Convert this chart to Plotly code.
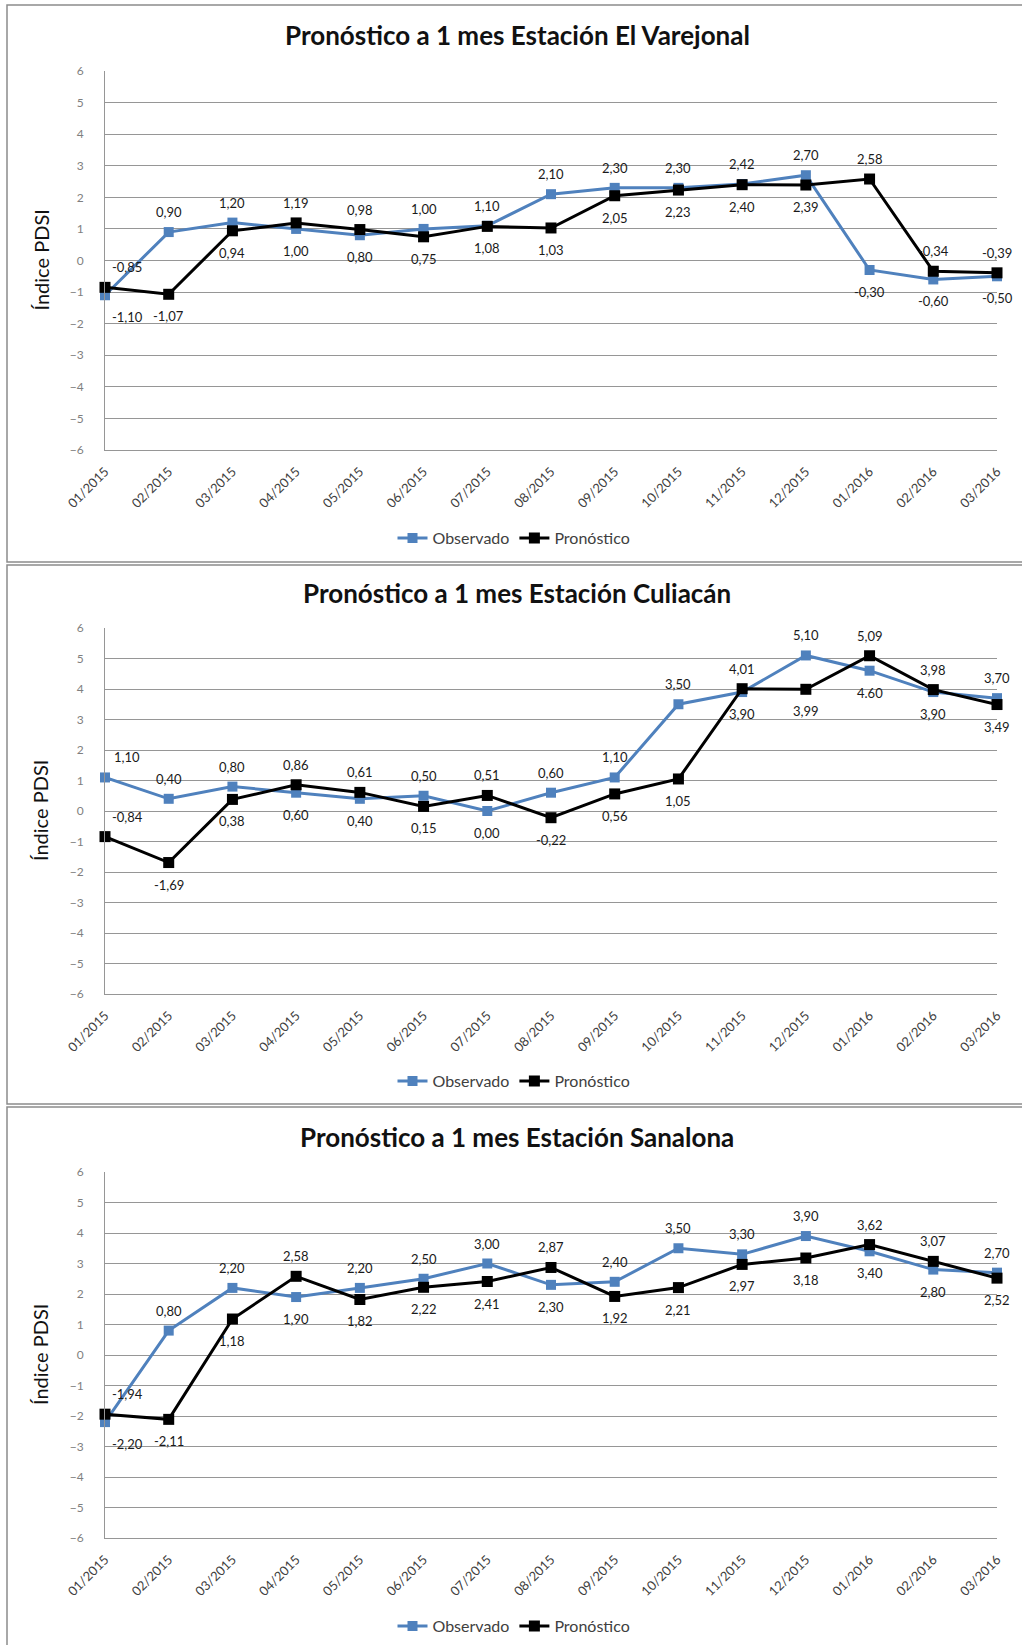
import plotly.graph_objects as go

# Datos
meses = ["01/2015", "02/2015", "03/2015", "04/2015", "05/2015", "06/2015", "07/2015",
         "08/2015", "09/2015", "10/2015", "11/2015", "12/2015", "01/2016", "02/2016", "03/2016"]

estaciones = ["El Varejonal", "Culiacán", "Sanalona"]

varejonal_obs = [-1.10, 0.90, 1.20, 1.00, 0.80, 1.00, 1.10, 2.10, 2.30, 2.30, 2.42, 2.70, -0.30, -0.60, -0.50]
varejonal_pro = [-0.85, -1.07, 0.94, 1.19, 0.98, 0.75, 1.08, 1.03, 2.05, 2.23, 2.40, 2.39, 2.58, -0.34, -0.39]

culiacan_obs = [1.10, 0.40, 0.80, 0.60, 0.40, 0.50, 0.00, 0.60, 1.10, 3.50, 3.90, 5.10, 4.60, 3.90, 3.70]
culiacan_pro = [-0.84, -1.69, 0.38, 0.86, 0.61, 0.15, 0.51, -0.22, 0.56, 1.05, 4.01, 3.99, 5.09, 3.98, 3.49]

sanalona_obs = [-2.20, 0.80, 2.20, 1.90, 2.20, 2.50, 3.00, 2.30, 2.40, 3.50, 3.30, 3.90, 3.40, 2.80, 2.70]
sanalona_pro = [-1.94, -2.11, 1.18, 2.58, 1.82, 2.22, 2.41, 2.87, 1.92, 2.21, 2.97, 3.18, 3.62, 3.07, 2.52]

# en la original esta etiqueta sale con punto
etiquetas_especiales = {(1, 0, 12): "4.60"}

W, H = 1022, 1645
AZUL = "#4F81BD"
GRIS = "#969696"
FUENTE = "Lato"


def py(px):
    return 1 - px / H


def etiqueta(v):
    return f"{v:.2f}".replace(".", ",")


# (plot top, plot bottom, y titulo, y leyenda, caja arriba, caja abajo) en pixeles
geom = [
    (71, 450, 35, 538, 5, 562),
    (628, 994, 593, 1081, 565, 1104),
    (1172, 1538, 1137, 1626, 1107, 1700),
]

series = [(varejonal_obs, varejonal_pro), (culiacan_obs, culiacan_pro), (sanalona_obs, sanalona_pro)]

# etiquetas que en la original van arriba aunque su valor sea el menor
forzar_arriba = {(1, 1, 0)}

fig = go.Figure()
annotations = []
shapes = []
layout = {}

for k, (nombre, (obs, pro), g) in enumerate(zip(estaciones, series, geom)):
    top, bot, ty, ly, bt, bb = g
    sfx = "" if k == 0 else str(k + 1)
    leg = "legend" if k == 0 else "legend" + str(k + 1)

    fig.add_trace(go.Scatter(x=meses, y=obs, name="Observado", mode="lines+markers",
                             line=dict(color=AZUL, width=3), marker=dict(symbol="square", size=10, color=AZUL),
                             xaxis="x" + sfx, yaxis="y" + sfx, legend=leg, cliponaxis=False))
    fig.add_trace(go.Scatter(x=meses, y=pro, name="Pronóstico", mode="lines+markers",
                             line=dict(color="black", width=3), marker=dict(symbol="square", size=11, color="black"),
                             xaxis="x" + sfx, yaxis="y" + sfx, legend=leg, cliponaxis=False))

    layout["xaxis" + sfx] = dict(domain=[105 / W, 997 / W], anchor="y" + sfx, type="category",
                                 range=[0, 14], showgrid=False, showline=True, linecolor=GRIS, linewidth=1,
                                 tickangle=-45, ticks="outside", ticklen=8, tickcolor="rgba(0,0,0,0)",
                                 tickfont=dict(family=FUENTE, size=13, color="#404040"))
    layout["yaxis" + sfx] = dict(domain=[py(bot), py(top)], anchor="x" + sfx, range=[-6, 6], dtick=1,
                                 showgrid=True, gridcolor=GRIS, gridwidth=1, zeroline=False,
                                 showline=True, linecolor=GRIS, linewidth=1,
                                 ticks="outside", ticklen=18, tickcolor="rgba(0,0,0,0)",
                                 tickfont=dict(family=FUENTE, size=12, color="#7F7F7F"))
    layout[leg] = dict(orientation="h", x=514 / W, xanchor="center", y=py(ly), yanchor="middle",
                       font=dict(family=FUENTE, size=16, color="#404040"), bgcolor="rgba(0,0,0,0)",
                       itemwidth=30, tracegroupgap=0)

    # titulo del panel
    annotations.append(dict(text="<b>Pronóstico a 1 mes Estación " + nombre + "</b>", xref="paper", yref="paper",
                            x=517 / W, y=py(ty), xanchor="center", yanchor="middle", showarrow=False,
                            font=dict(family=FUENTE, size=26, color="#111111")))
    # titulo eje y
    annotations.append(dict(text="Índice PDSI", xref="paper", yref="paper", textangle=-90,
                            x=40 / W, y=py((top + bot) / 2), xanchor="center", yanchor="middle", showarrow=False,
                            font=dict(family=FUENTE, size=20, color="#111111")))

    # etiquetas de datos: el valor mayor arriba, el menor abajo
    for j, (vals, otros) in enumerate([(obs, pro), (pro, obs)]):
        for i, v in enumerate(vals):
            arriba = v >= otros[i] if v != otros[i] else j == 0
            if (k, j, i) in forzar_arriba:
                arriba = True
            txt = etiquetas_especiales.get((k, j, i), etiqueta(v))
            annotations.append(dict(text=txt, x=meses[i], y=v, xref="x" + sfx, yref="y" + sfx,
                                    showarrow=False, xanchor="center", yanchor="middle",
                                    yshift=20 if arriba else -22, xshift=22 if i == 0 else 0,
                                    font=dict(family=FUENTE, size=13, color="#1a1a1a")))

    # marco del panel
    shapes.append(dict(type="rect", xref="paper", yref="paper", x0=7 / W, x1=1030 / W,
                       y0=py(bb), y1=py(bt), line=dict(color="#8c8c8c", width=1.5), layer="below"))

fig.update_layout(**layout)
fig.update_layout(width=W, height=H, margin=dict(l=0, r=0, t=0, b=0, autoexpand=False),
                  paper_bgcolor="white", plot_bgcolor="white",
                  annotations=annotations, shapes=shapes, showlegend=True,
                  font=dict(family=FUENTE))

# sin margen en el body para que la figura ocupe la ventana entera
fig.write_html("out.html", config={"displayModeBar": False},
               post_script="document.body.style.margin = '0';")
